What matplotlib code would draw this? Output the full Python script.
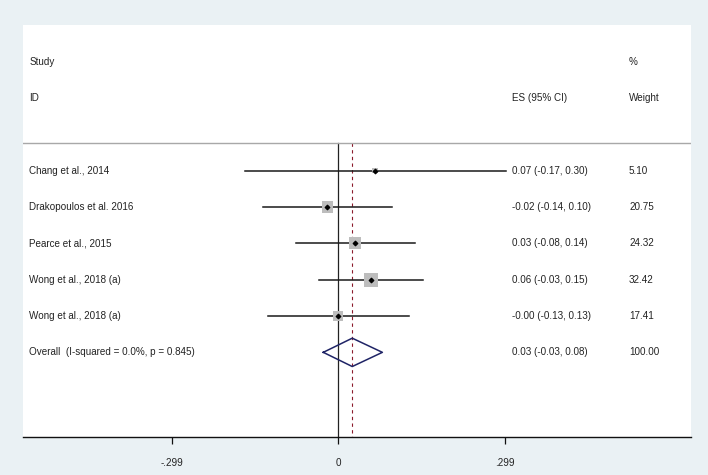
import matplotlib
matplotlib.use("Agg")
import matplotlib.pyplot as plt
import numpy as np

studies = ["Chang et al., 2014", "Drakopoulos et al. 2016", "Pearce et al., 2015",
           "Wong et al., 2018 (a)", "Wong et al., 2018 (a)"]
es = [0.066, -0.020, 0.030, 0.059, -0.001]
ci_low = [-0.167, -0.136, -0.076, -0.034, -0.127]
ci_high = [0.300, 0.096, 0.138, 0.152, 0.126]
es_labels = ["0.07 (-0.17, 0.30)", "-0.02 (-0.14, 0.10)", "0.03 (-0.08, 0.14)",
             "0.06 (-0.03, 0.15)", "-0.00 (-0.13, 0.13)"]
weights = [5.10, 20.75, 24.32, 32.42, 17.41]
weight_labels = ["5.10", "20.75", "24.32", "32.42", "17.41"]

overall_label = "Overall  (I-squared = 0.0%, p = 0.845)"
overall_es = 0.025
overall_low = -0.027
overall_high = 0.079
overall_text = "0.03 (-0.03, 0.08)"
overall_weight = "100.00"

xticks = [-0.299, 0, 0.299]
xticklabels = ["-.299", "0", ".299"]

W, H = 708, 475
fig = plt.figure(figsize=(W / 100, H / 100), dpi=100)
fig.patch.set_facecolor("#EAF1F4")
plt.rcParams['font.family'] = ['Liberation Sans', 'DejaVu Sans']

ax = fig.add_axes([23 / W, (H - 437) / H, 668 / W, 412 / H])
ax.set_facecolor("white")
ax.set_xlim(-0.5656, 0.6326)
ax.set_ylim(8.33, -3.01)

fs = 7.1
tc = "#222222"
txt_x = -0.5545
es_x = 0.312
w_x = 0.5215

ax.text(txt_x, -2, "Study", fontsize=fs, va="center", ha="left", color=tc)
ax.text(txt_x, -1, "ID", fontsize=fs, va="center", ha="left", color=tc)
ax.text(es_x, -1, "ES (95% CI)", fontsize=fs, va="center", ha="left", color=tc)
ax.text(w_x, -1, "Weight", fontsize=fs, va="center", ha="left", color=tc)
ax.text(w_x, -2, "%", fontsize=fs, va="center", ha="left", color=tc)

ax.axhline(0.237, color="#A8A8A8", lw=1.0)

# reference lines
ax.plot([0, 0], [0.237, 8.33], color="#222222", lw=0.9, zorder=1)
ax.plot([overall_es, overall_es], [0.237, 8.33], color="#8B1A2B", lw=0.8,
        ls=(0, (3, 3)), zorder=1)

rows = np.arange(1, len(studies) + 1)
for i, r in enumerate(rows):
    ax.plot([ci_low[i], ci_high[i]], [r, r], color="#1a1a1a", lw=1.1, zorder=2)
    ax.text(txt_x, r, studies[i], fontsize=fs, va="center", ha="left", color=tc)
    ax.text(es_x, r, es_labels[i], fontsize=fs, va="center", ha="left", color=tc)
    ax.text(w_x, r, weight_labels[i], fontsize=fs, va="center", ha="left", color=tc)

ax.scatter(es, rows, s=(1.75 * np.sqrt(weights)) ** 2, marker="s", color="#BDBDBD",
           edgecolors="none", zorder=3)
ax.scatter(es, rows, s=5, marker="D", color="black", zorder=4)

orow = len(studies) + 1
dh = 0.39
ax.plot([overall_low, overall_es, overall_high, overall_es, overall_low],
        [orow, orow - dh, orow, orow + dh, orow], color="#1F2466", lw=1.1, zorder=4)
ax.text(txt_x, orow, overall_label, fontsize=fs, va="center", ha="left", color=tc)
ax.text(es_x, orow, overall_text, fontsize=fs, va="center", ha="left", color=tc)
ax.text(w_x, orow, overall_weight, fontsize=fs, va="center", ha="left", color=tc)

for s in ["top", "left", "right"]:
    ax.spines[s].set_visible(False)
ax.spines["bottom"].set_color("#111111")
ax.spines["bottom"].set_linewidth(1.0)
ax.set_yticks([])
ax.set_xticks(xticks)
ax.set_xticklabels(xticklabels, fontsize=fs, color=tc)
ax.tick_params(axis="x", length=5, width=0.9, color="#111111", pad=10)

fig.savefig("out.png", dpi=100, facecolor=fig.get_facecolor())
